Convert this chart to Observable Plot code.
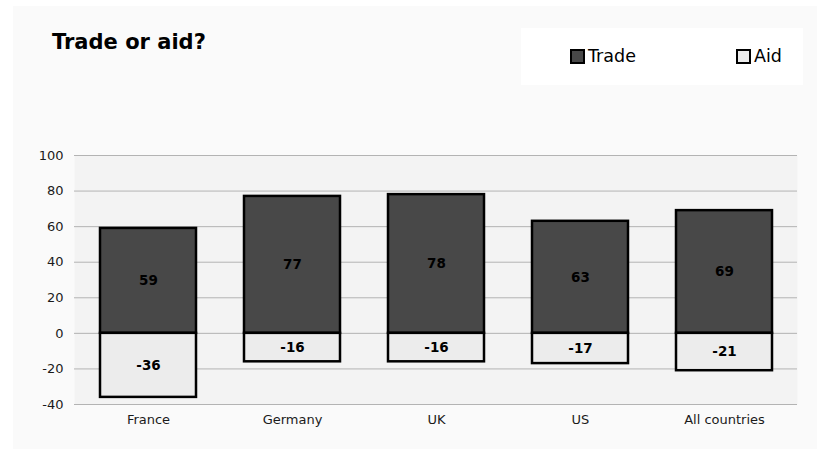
<!DOCTYPE html>
<html>
<head>
<meta charset="utf-8">
<script src="https://cdn.jsdelivr.net/npm/d3@7"></script>
<script src="https://cdn.jsdelivr.net/npm/@observablehq/plot@0.6"></script>
<style>
  html, body { margin: 0; padding: 0; background: #ffffff; }
  #wrap { position: relative; width: 817px; height: 449px; overflow: hidden; font-family: "DejaVu Sans", Verdana, sans-serif; }
  #panel { position: absolute; left: 13px; top: 6px; width: 804px; height: 443px; background: #fafafa; }
  #title { position: absolute; left: 52px; top: 30px; font-size: 21px; font-weight: bold; color: #000; white-space: nowrap; }
  #legend { position: absolute; left: 521px; top: 28px; width: 282px; height: 57px; background: #ffffff; }
  .item { position: absolute; top: 18px; font-size: 17.5px; color: #000; display: flex; align-items: center; white-space: nowrap; }
  .sw { width: 11px; height: 11px; border: 2px solid #000; margin-right: 3px; box-sizing: content-box; }
  #chart { position: absolute; left: 0; top: 0; }
</style>
</head>
<body>
<div id="wrap">
  <div id="panel"></div>
  <div id="title">Trade or aid?</div>
  <div id="legend"></div>
  <div id="chart"></div>
</div>
<script>
const countries = ["France", "Germany", "UK", "US", "All countries"];
const trade = [59, 77, 78, 63, 69];
const aid = [-36, -16, -16, -17, -21];
const seriesNames = ["Trade", "Aid"];
const seriesColors = ["#484848", "#ececec"];
const yTicks = [-40, -20, 0, 20, 40, 60, 80, 100];

const rows = [];
countries.forEach((c, i) => {
  rows.push({country: c, series: "Trade", value: trade[i]});
  rows.push({country: c, series: "Aid", value: aid[i]});
});

// legend
const legend = document.getElementById("legend");
const legendLefts = [49, 215];
seriesNames.forEach((s, i) => {
  const item = document.createElement("div");
  item.className = "item";
  item.style.left = legendLefts[i] + "px";
  const sw = document.createElement("span");
  sw.className = "sw";
  sw.style.background = seriesColors[i];
  item.appendChild(sw);
  item.appendChild(document.createTextNode(s));
  legend.appendChild(item);
});

const chart = Plot.plot({
  width: 817,
  height: 449,
  marginLeft: 74,
  marginRight: 20,
  marginTop: 155,
  marginBottom: 45,
  style: {background: "transparent", fontFamily: "DejaVu Sans, Verdana, sans-serif", fontSize: "13px", color: "#1a1a1a"},
  x: {domain: countries, paddingInner: 0.336, paddingOuter: 0.168, label: null},
  y: {domain: [-40, 100], ticks: yTicks, label: null},
  color: {domain: seriesNames, range: seriesColors},
  marks: [
    Plot.frame({fill: "#f3f3f3", stroke: null}),
    Plot.gridY(yTicks, {stroke: "#b3b3b3", strokeOpacity: 1, strokeWidth: 1}),
    Plot.axisY(yTicks, {tickSize: 0, tickPadding: 11, fontSize: 13, label: null, tickFormat: d => String(d)}),
    Plot.axisX({tickSize: 0, tickPadding: 10, fontSize: 13, label: null}),
    Plot.barY(rows, {x: "country", y1: 0, y2: "value", fill: "series", stroke: "#000", strokeWidth: 2.5}),
    Plot.text(rows, {x: "country", y: d => d.value / 2, text: d => String(d.value), fontWeight: "bold", fontSize: 13.5, fill: "#000"})
  ]
});
document.getElementById("chart").appendChild(chart);
</script>
</body>
</html>
